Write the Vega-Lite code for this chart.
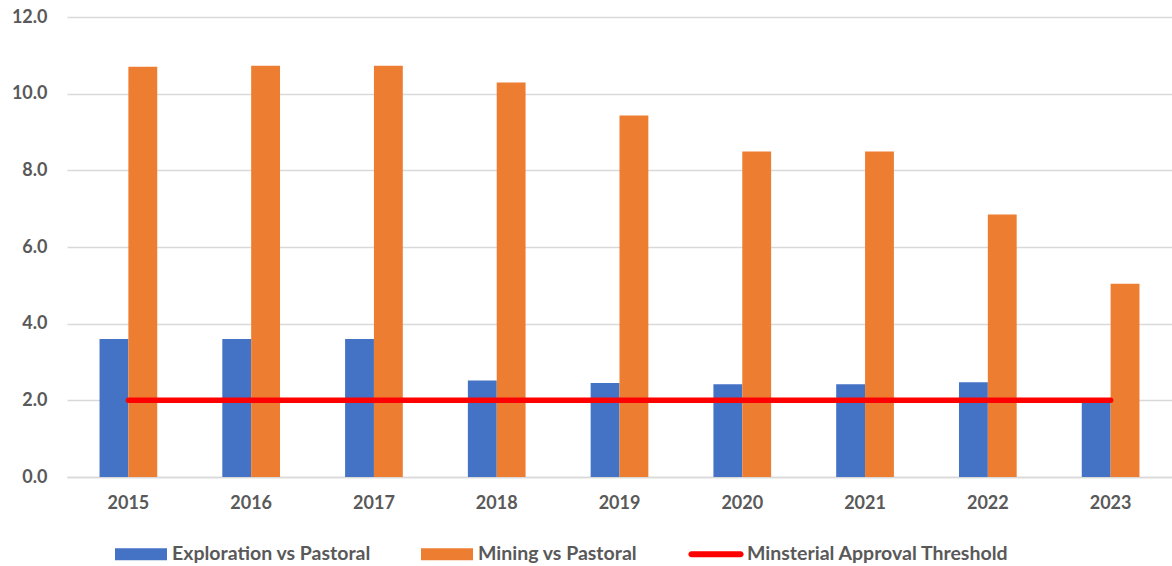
{
  "$schema": "https://vega.github.io/schema/vega-lite/v6.json",
  "width": 1105,
  "height": 460,
  "autosize": {"type": "none"},
  "padding": {"left": 67, "top": 17, "right": 0, "bottom": 89},
  "background": "white",
  "config": {
    "font": "Lato",
    "view": {"stroke": null},
    "axis": {
      "labelFont": "Lato",
      "labelFontWeight": "bold",
      "labelFontSize": 18,
      "labelColor": "#595959",
      "ticks": false,
      "title": null
    },
    "legend": {
      "labelFont": "Lato",
      "labelFontWeight": "bold",
      "labelFontSize": 19.5,
      "labelColor": "#595959",
      "labelLimit": 400
    }
  },
  "datasets": {
    "bars": [
      {"year": "2015", "series": "Exploration vs Pastoral", "value": 3.6},
      {"year": "2015", "series": "Mining vs Pastoral", "value": 10.7},
      {"year": "2016", "series": "Exploration vs Pastoral", "value": 3.6},
      {"year": "2016", "series": "Mining vs Pastoral", "value": 10.73},
      {"year": "2017", "series": "Exploration vs Pastoral", "value": 3.6},
      {"year": "2017", "series": "Mining vs Pastoral", "value": 10.73},
      {"year": "2018", "series": "Exploration vs Pastoral", "value": 2.52},
      {"year": "2018", "series": "Mining vs Pastoral", "value": 10.29},
      {"year": "2019", "series": "Exploration vs Pastoral", "value": 2.45},
      {"year": "2019", "series": "Mining vs Pastoral", "value": 9.43},
      {"year": "2020", "series": "Exploration vs Pastoral", "value": 2.42},
      {"year": "2020", "series": "Mining vs Pastoral", "value": 8.49},
      {"year": "2021", "series": "Exploration vs Pastoral", "value": 2.42},
      {"year": "2021", "series": "Mining vs Pastoral", "value": 8.49},
      {"year": "2022", "series": "Exploration vs Pastoral", "value": 2.47},
      {"year": "2022", "series": "Mining vs Pastoral", "value": 6.85},
      {"year": "2023", "series": "Exploration vs Pastoral", "value": 1.93},
      {"year": "2023", "series": "Mining vs Pastoral", "value": 5.04}
    ],
    "threshold": [
      {"year": "2015", "threshold": 2},
      {"year": "2016", "threshold": 2},
      {"year": "2017", "threshold": 2},
      {"year": "2018", "threshold": 2},
      {"year": "2019", "threshold": 2},
      {"year": "2020", "threshold": 2},
      {"year": "2021", "threshold": 2},
      {"year": "2022", "threshold": 2},
      {"year": "2023", "threshold": 2}
    ]
  },
  "layer": [
    {
      "data": {"name": "bars"},
      "mark": {"type": "bar"},
      "encoding": {
        "x": {
          "field": "year",
          "type": "ordinal",
          "scale": {"paddingInner": 0.53, "paddingOuter": 0.265},
          "axis": {
            "labelAngle": 0,
            "labelPadding": 17,
            "domain": true,
            "domainColor": "#d9d9d9",
            "domainWidth": 1.5,
            "grid": false
          }
        },
        "xOffset": {
          "field": "series",
          "type": "nominal",
          "sort": ["Exploration vs Pastoral", "Mining vs Pastoral"]
        },
        "y": {
          "field": "value",
          "type": "quantitative",
          "scale": {"domain": [0, 12], "nice": false},
          "axis": {
            "values": [0, 2, 4, 6, 8, 10, 12],
            "format": ".1f",
            "domain": false,
            "grid": true,
            "gridColor": "#d9d9d9",
            "gridWidth": 1.5,
            "labelPadding": 20
          }
        },
        "color": {
          "field": "series",
          "type": "nominal",
          "scale": {
            "domain": ["Exploration vs Pastoral", "Mining vs Pastoral", "Minsterial Approval Threshold"],
            "range": ["#4472c4", "#ed7d31", "#ff0000"]
          },
          "legend": {
            "title": null,
            "orient": "none",
            "legendX": 48,
            "legendY": 511,
            "direction": "horizontal",
            "columnPadding": 50,
            "labelOffset": 5,
            "symbolType": "M-1,-0.23H1V0.23H-1Z",
            "symbolSize": 2704,
            "symbolStrokeWidth": 0,
            "symbolOpacity": 1,
            "encode": {
              "symbols": {
                "update": {
                  "shape": {"signal": "datum.value === 'Minsterial Approval Threshold' ? 'M-0.95,-0.115A0.11,0.115 0 0,0 -0.95,0.115H0.95A0.11,0.115 0 0,0 0.95,-0.115Z' : 'M-1,-0.23H1V0.23H-1Z'"}
                }
              }
            }
          }
        }
      }
    },
    {
      "data": {"name": "threshold"},
      "mark": {"type": "line", "color": "#ff0000", "strokeWidth": 5.5, "strokeCap": "round"},
      "encoding": {
        "x": {"field": "year", "type": "ordinal"},
        "y": {"field": "threshold", "type": "quantitative"}
      }
    }
  ]
}
